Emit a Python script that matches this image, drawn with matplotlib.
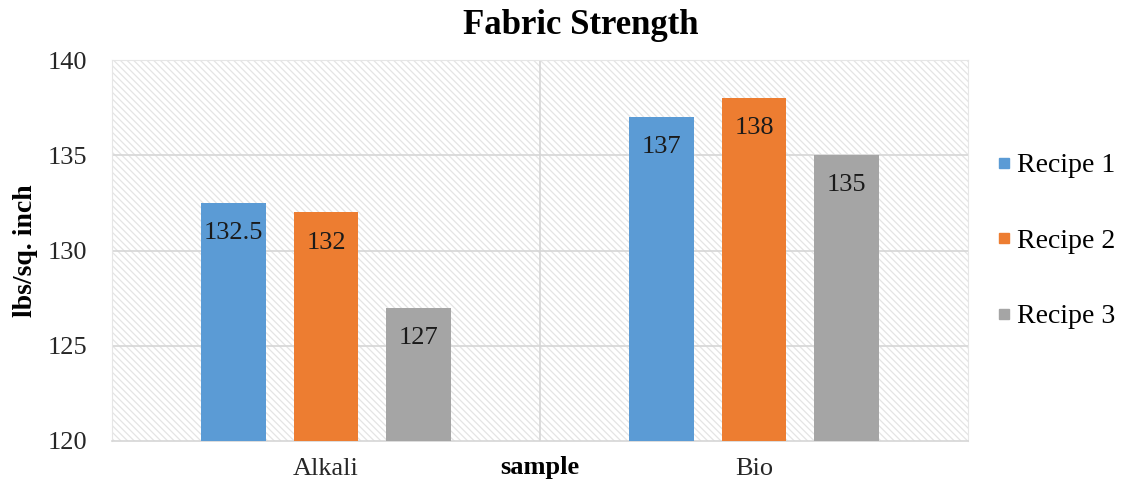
import numpy as np
import matplotlib
matplotlib.use('Agg')
import matplotlib.pyplot as plt
from matplotlib.patches import Rectangle
from matplotlib.lines import Line2D

# data
categories = ["Alkali", "Bio"]
series_names = ["Recipe 1", "Recipe 2", "Recipe 3"]
recipe1 = [132.5, 137]
recipe2 = [132, 138]
recipe3 = [127, 135]
labels1 = ["132.5", "137"]
labels2 = ["132", "138"]
labels3 = ["127", "135"]
yticks = [120, 125, 130, 135, 140]

colors = ["#5B9BD5", "#ED7D31", "#A5A5A5"]

plt.rcParams['font.family'] = ['Liberation Serif', 'DejaVu Serif']
plt.rcParams['hatch.linewidth'] = 0.9
plt.rcParams['hatch.color'] = '#e4e4e4'

fig = plt.figure(figsize=(11.22, 4.92), dpi=100)
ax = fig.add_axes([0.0998, 0.1037, 0.763, 0.774])

# hatched background
bg = Rectangle((0, 0), 1, 1, transform=ax.transAxes, facecolor='white',
               edgecolor='#e4e4e4', hatch='\\\\\\\\\\', linewidth=0, zorder=0)
ax.add_patch(bg)

x = np.arange(len(categories))
width = 0.15
offset = 0.216
all_vals = [recipe1, recipe2, recipe3]
all_labels = [labels1, labels2, labels3]
for i, (vals, labs) in enumerate(zip(all_vals, all_labels)):
    pos = x + (i - 1) * offset
    bars = ax.bar(pos, np.array(vals) - 120, width, bottom=120,
                  color=colors[i], zorder=3, label=series_names[i])
    for b, lab in zip(bars, labs):
        ax.text(b.get_x() + b.get_width() / 2, b.get_y() + b.get_height() - 1.0,
                lab, ha='center', va='top', fontsize=19, color='#1a1a1a', zorder=4)

ax.set_xlim(-0.5, 1.5)
ax.set_ylim(120, 140)
ax.set_yticks(yticks)
ax.set_xticks(x)
ax.set_xticklabels(categories)
ax.tick_params(axis='both', length=0, labelsize=19, colors='#262626')
ax.tick_params(axis='y', pad=18)
ax.tick_params(axis='x', pad=12)

for yv in yticks[1:-1]:
    ax.axhline(yv, color='#d6d6d6', linewidth=1.2, zorder=1)
ax.axvline(0.5, color='#d6d6d6', linewidth=1.2, zorder=1)

for side in ['top', 'right', 'left']:
    ax.spines[side].set_color('#e6e6e6')
ax.spines['bottom'].set_color('#d6d6d6')
ax.spines['bottom'].set_linewidth(1.2)

fig.text(0.518, 0.949, "Fabric Strength", fontsize=25, fontweight='bold',
         ha='center', va='center')
ax.set_ylabel("lbs/sq. inch", fontsize=20, fontweight='bold', labelpad=7)
ax.set_xlabel("sample", fontsize=19, fontweight='bold', labelpad=-17)

handles = [Line2D([], [], marker='s', linestyle='none', markersize=7,
                  color=c) for c in colors]
fig.legend(handles, series_names, loc='upper left', bbox_to_anchor=(0.864, 0.74),
           frameon=False, fontsize=20, handletextpad=0.1, labelspacing=1.8,
           handlelength=0.7)

plt.savefig("out.png", dpi=100)
